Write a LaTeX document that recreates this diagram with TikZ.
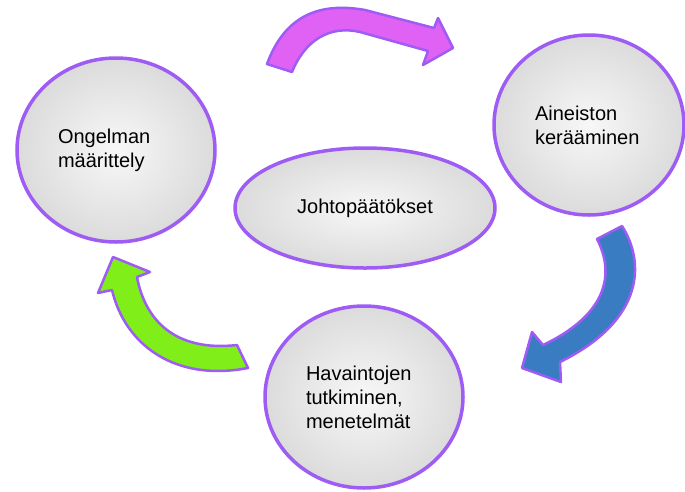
\documentclass[tikz,border=0pt]{standalone}
\usepackage{fontspec}
\setmainfont{Liberation Sans}
\usetikzlibrary{shapes.geometric}
\definecolor{reunus}{RGB}{158,92,245}
\definecolor{violetti}{RGB}{224,98,245}
\definecolor{sininen}{RGB}{58,124,194}
\definecolor{vihrea}{RGB}{128,238,24}
\pgfdeclareradialshading{pallovarjo}{\pgfpoint{0bp}{0bp}}{color(0bp)=(gray!6); color(50bp)=(gray!50); color(72bp)=(gray!50)}

\begin{document}
\begin{tikzpicture}[x=1pt,y=-1pt,
    pallo/.style={ellipse, draw=reunus, line width=3.5pt, shading=pallovarjo,
      inner sep=0pt, minimum width=198pt, minimum height=184pt,
      text width=116pt, align=left, font=\fontsize{20}{24}\selectfont},
    nuoli/.style={draw=reunus, line width=2.5pt, line join=round}]
                \useasboundingbox (0,0) rectangle (685,491);
                \node[pallo] at (116,150) (ongelma) {Ongelman\\määrittely};
                \node[pallo, minimum width=190pt, minimum height=180pt, text width=108pt] at (589,125) (aineisto) {Aineiston\\kerääminen};
                \node[pallo, minimum height=182pt] at (364,397) (havainto) {Havaintojen\\tutkiminen,\\menetelmät};
                \node[pallo, minimum width=260pt, minimum height=120pt, text width=, align=center] at (365,208) (johto) {Johtopäätökset};
                \draw[nuoli, fill=violetti] (267,64) .. controls (285,15) and (320,2) .. (365,10) -- (434,28) -- (438,18) -- (453,48) -- (423,65) -- (428,51) -- (360,32) .. controls (330,25) and (305,40) .. (292,72) -- cycle;
                \draw[nuoli, fill=sininen] (597,239) -- (622,226) .. controls (645,262) and (645,320) .. (560,362) -- (561,382) -- (522,368) -- (532,332) -- (543,345) .. controls (600,318) and (618,280) .. (597,239) -- cycle;
                \draw[nuoli, fill=vihrea] (237,345) -- (248,368) .. controls (175,382) and (125,345) .. (112,290) -- (98,293) -- (113,257) -- (150,272) -- (137,277) .. controls (145,320) and (175,352) .. (237,345) -- cycle;
            \end{tikzpicture}
\end{document}
